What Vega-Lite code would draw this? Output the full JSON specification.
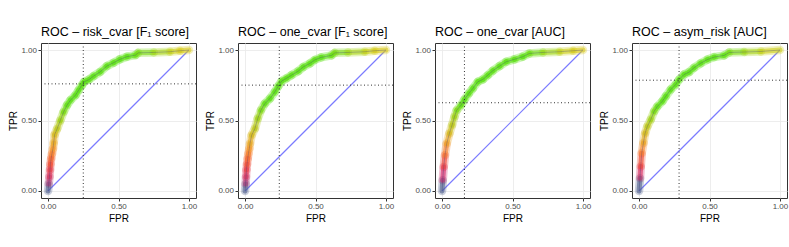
{
  "$schema": "https://vega.github.io/schema/vega-lite/v6.json",
  "padding": {"left": 7, "top": 25, "right": 0, "bottom": 0},
  "background": "white",
  "datasets": {
    "p1": [
      {"idx": 0, "FPR": 0, "TPR": 0, "cut": 1.0},
      {"idx": 1, "FPR": 0.005, "TPR": 0.05, "cut": 0.96},
      {"idx": 2, "FPR": 0.01, "TPR": 0.10, "cut": 0.93},
      {"idx": 3, "FPR": 0.014, "TPR": 0.15, "cut": 0.90},
      {"idx": 4, "FPR": 0.017, "TPR": 0.19, "cut": 0.87},
      {"idx": 5, "FPR": 0.022, "TPR": 0.23, "cut": 0.84},
      {"idx": 6, "FPR": 0.028, "TPR": 0.265, "cut": 0.81},
      {"idx": 7, "FPR": 0.035, "TPR": 0.30, "cut": 0.785},
      {"idx": 8, "FPR": 0.04, "TPR": 0.34, "cut": 0.76},
      {"idx": 9, "FPR": 0.047, "TPR": 0.40, "cut": 0.72},
      {"idx": 10, "FPR": 0.064, "TPR": 0.44, "cut": 0.68},
      {"idx": 11, "FPR": 0.087, "TPR": 0.50, "cut": 0.64},
      {"idx": 12, "FPR": 0.11, "TPR": 0.56, "cut": 0.60},
      {"idx": 13, "FPR": 0.135, "TPR": 0.61, "cut": 0.56},
      {"idx": 14, "FPR": 0.16, "TPR": 0.645, "cut": 0.53},
      {"idx": 15, "FPR": 0.195, "TPR": 0.68, "cut": 0.50},
      {"idx": 16, "FPR": 0.217, "TPR": 0.715, "cut": 0.47},
      {"idx": 17, "FPR": 0.24, "TPR": 0.75, "cut": 0.45},
      {"idx": 18, "FPR": 0.257, "TPR": 0.775, "cut": 0.43},
      {"idx": 19, "FPR": 0.29, "TPR": 0.79, "cut": 0.41},
      {"idx": 20, "FPR": 0.323, "TPR": 0.815, "cut": 0.38},
      {"idx": 21, "FPR": 0.37, "TPR": 0.845, "cut": 0.35},
      {"idx": 22, "FPR": 0.417, "TPR": 0.886, "cut": 0.32},
      {"idx": 23, "FPR": 0.465, "TPR": 0.91, "cut": 0.29},
      {"idx": 24, "FPR": 0.51, "TPR": 0.934, "cut": 0.26},
      {"idx": 25, "FPR": 0.56, "TPR": 0.953, "cut": 0.22},
      {"idx": 26, "FPR": 0.62, "TPR": 0.964, "cut": 0.18},
      {"idx": 27, "FPR": 0.64, "TPR": 0.98, "cut": 0.16},
      {"idx": 28, "FPR": 0.75, "TPR": 0.983, "cut": 0.11},
      {"idx": 29, "FPR": 0.865, "TPR": 0.988, "cut": 0.06},
      {"idx": 30, "FPR": 0.936, "TPR": 0.995, "cut": 0.03},
      {"idx": 31, "FPR": 1, "TPR": 1, "cut": 0.0}
    ],
    "p2": [
      {"idx": 0, "FPR": 0, "TPR": 0, "cut": 1.0},
      {"idx": 1, "FPR": 0.004, "TPR": 0.05, "cut": 0.96},
      {"idx": 2, "FPR": 0.007, "TPR": 0.10, "cut": 0.93},
      {"idx": 3, "FPR": 0.01, "TPR": 0.15, "cut": 0.90},
      {"idx": 4, "FPR": 0.014, "TPR": 0.19, "cut": 0.87},
      {"idx": 5, "FPR": 0.019, "TPR": 0.23, "cut": 0.84},
      {"idx": 6, "FPR": 0.024, "TPR": 0.265, "cut": 0.81},
      {"idx": 7, "FPR": 0.03, "TPR": 0.30, "cut": 0.785},
      {"idx": 8, "FPR": 0.035, "TPR": 0.336, "cut": 0.76},
      {"idx": 9, "FPR": 0.047, "TPR": 0.396, "cut": 0.72},
      {"idx": 10, "FPR": 0.07, "TPR": 0.443, "cut": 0.68},
      {"idx": 11, "FPR": 0.09, "TPR": 0.514, "cut": 0.64},
      {"idx": 12, "FPR": 0.113, "TPR": 0.573, "cut": 0.60},
      {"idx": 13, "FPR": 0.14, "TPR": 0.62, "cut": 0.56},
      {"idx": 14, "FPR": 0.177, "TPR": 0.656, "cut": 0.52},
      {"idx": 15, "FPR": 0.212, "TPR": 0.704, "cut": 0.48},
      {"idx": 16, "FPR": 0.236, "TPR": 0.744, "cut": 0.45},
      {"idx": 17, "FPR": 0.26, "TPR": 0.78, "cut": 0.42},
      {"idx": 18, "FPR": 0.295, "TPR": 0.80, "cut": 0.40},
      {"idx": 19, "FPR": 0.33, "TPR": 0.822, "cut": 0.37},
      {"idx": 20, "FPR": 0.377, "TPR": 0.85, "cut": 0.34},
      {"idx": 21, "FPR": 0.413, "TPR": 0.88, "cut": 0.31},
      {"idx": 22, "FPR": 0.46, "TPR": 0.905, "cut": 0.28},
      {"idx": 23, "FPR": 0.495, "TPR": 0.93, "cut": 0.25},
      {"idx": 24, "FPR": 0.54, "TPR": 0.948, "cut": 0.22},
      {"idx": 25, "FPR": 0.613, "TPR": 0.962, "cut": 0.18},
      {"idx": 26, "FPR": 0.637, "TPR": 0.98, "cut": 0.16},
      {"idx": 27, "FPR": 0.73, "TPR": 0.983, "cut": 0.11},
      {"idx": 28, "FPR": 0.85, "TPR": 0.988, "cut": 0.06},
      {"idx": 29, "FPR": 0.92, "TPR": 0.995, "cut": 0.03},
      {"idx": 30, "FPR": 1, "TPR": 1, "cut": 0.0}
    ],
    "p3": [
      {"idx": 0, "FPR": 0, "TPR": 0, "cut": 1.0},
      {"idx": 1, "FPR": 0.005, "TPR": 0.076, "cut": 0.95},
      {"idx": 2, "FPR": 0.012, "TPR": 0.17, "cut": 0.89},
      {"idx": 3, "FPR": 0.021, "TPR": 0.254, "cut": 0.82},
      {"idx": 4, "FPR": 0.033, "TPR": 0.336, "cut": 0.77},
      {"idx": 5, "FPR": 0.052, "TPR": 0.408, "cut": 0.72},
      {"idx": 6, "FPR": 0.071, "TPR": 0.467, "cut": 0.68},
      {"idx": 7, "FPR": 0.088, "TPR": 0.526, "cut": 0.64},
      {"idx": 8, "FPR": 0.104, "TPR": 0.573, "cut": 0.60},
      {"idx": 9, "FPR": 0.135, "TPR": 0.609, "cut": 0.56},
      {"idx": 10, "FPR": 0.159, "TPR": 0.649, "cut": 0.52},
      {"idx": 11, "FPR": 0.19, "TPR": 0.692, "cut": 0.49},
      {"idx": 12, "FPR": 0.218, "TPR": 0.727, "cut": 0.46},
      {"idx": 13, "FPR": 0.254, "TPR": 0.775, "cut": 0.43},
      {"idx": 14, "FPR": 0.289, "TPR": 0.791, "cut": 0.40},
      {"idx": 15, "FPR": 0.325, "TPR": 0.822, "cut": 0.37},
      {"idx": 16, "FPR": 0.36, "TPR": 0.853, "cut": 0.34},
      {"idx": 17, "FPR": 0.408, "TPR": 0.886, "cut": 0.31},
      {"idx": 18, "FPR": 0.455, "TPR": 0.917, "cut": 0.28},
      {"idx": 19, "FPR": 0.514, "TPR": 0.934, "cut": 0.25},
      {"idx": 20, "FPR": 0.573, "TPR": 0.953, "cut": 0.21},
      {"idx": 21, "FPR": 0.62, "TPR": 0.976, "cut": 0.17},
      {"idx": 22, "FPR": 0.716, "TPR": 0.983, "cut": 0.12},
      {"idx": 23, "FPR": 0.834, "TPR": 0.988, "cut": 0.06},
      {"idx": 24, "FPR": 0.93, "TPR": 0.995, "cut": 0.03},
      {"idx": 25, "FPR": 1, "TPR": 1, "cut": 0.0}
    ],
    "p4": [
      {"idx": 0, "FPR": 0, "TPR": 0, "cut": 1.0},
      {"idx": 1, "FPR": 0.007, "TPR": 0.09, "cut": 0.94},
      {"idx": 2, "FPR": 0.012, "TPR": 0.173, "cut": 0.88},
      {"idx": 3, "FPR": 0.019, "TPR": 0.268, "cut": 0.81},
      {"idx": 4, "FPR": 0.031, "TPR": 0.34, "cut": 0.76},
      {"idx": 5, "FPR": 0.043, "TPR": 0.41, "cut": 0.72},
      {"idx": 6, "FPR": 0.059, "TPR": 0.458, "cut": 0.68},
      {"idx": 7, "FPR": 0.083, "TPR": 0.506, "cut": 0.64},
      {"idx": 8, "FPR": 0.107, "TPR": 0.565, "cut": 0.60},
      {"idx": 9, "FPR": 0.13, "TPR": 0.60, "cut": 0.56},
      {"idx": 10, "FPR": 0.166, "TPR": 0.637, "cut": 0.53},
      {"idx": 11, "FPR": 0.19, "TPR": 0.672, "cut": 0.50},
      {"idx": 12, "FPR": 0.225, "TPR": 0.72, "cut": 0.47},
      {"idx": 13, "FPR": 0.26, "TPR": 0.755, "cut": 0.44},
      {"idx": 14, "FPR": 0.284, "TPR": 0.79, "cut": 0.42},
      {"idx": 15, "FPR": 0.32, "TPR": 0.827, "cut": 0.39},
      {"idx": 16, "FPR": 0.355, "TPR": 0.843, "cut": 0.36},
      {"idx": 17, "FPR": 0.39, "TPR": 0.874, "cut": 0.33},
      {"idx": 18, "FPR": 0.438, "TPR": 0.907, "cut": 0.30},
      {"idx": 19, "FPR": 0.486, "TPR": 0.933, "cut": 0.27},
      {"idx": 20, "FPR": 0.533, "TPR": 0.95, "cut": 0.24},
      {"idx": 21, "FPR": 0.604, "TPR": 0.962, "cut": 0.19},
      {"idx": 22, "FPR": 0.64, "TPR": 0.983, "cut": 0.16},
      {"idx": 23, "FPR": 0.746, "TPR": 0.986, "cut": 0.11},
      {"idx": 24, "FPR": 0.865, "TPR": 0.99, "cut": 0.06},
      {"idx": 25, "FPR": 1, "TPR": 1, "cut": 0.0}
    ]
  },
  "hconcat": [
    {
      "title": "ROC – risk_cvar [F₁ score]",
      "width": 155, "height": 155,
      "layer": [
        {"data": {"values": [{"FPR": 0, "TPR": 0}, {"FPR": 1, "TPR": 1}]}, "mark": {"type": "line", "stroke": "#7b7bff", "strokeWidth": 1.2},
         "encoding": {
           "x": {"field": "FPR", "type": "quantitative", "scale": {"domain": [-0.05, 1.05], "nice": false, "zero": false},
                 "axis": {"title": "FPR", "values": [0, 0.125, 0.25, 0.375, 0.5, 0.625, 0.75, 0.875, 1], "labelExpr": "round(datum.value*8)%2==1 ? '' : format(datum.value, '.2f')", "gridWidth": {"condition": {"test": "round(datum.value*8)%2==1", "value": 0.4}, "value": 0.9}, "tickOpacity": {"condition": {"test": "round(datum.value*8)%2==1", "value": 0}, "value": 1}}},
           "y": {"field": "TPR", "type": "quantitative", "scale": {"domain": [-0.05, 1.05], "nice": false, "zero": false},
                 "axis": {"title": "TPR", "values": [0, 0.125, 0.25, 0.375, 0.5, 0.625, 0.75, 0.875, 1], "labelExpr": "round(datum.value*8)%2==1 ? '' : format(datum.value, '.2f')", "gridWidth": {"condition": {"test": "round(datum.value*8)%2==1", "value": 0.4}, "value": 0.9}, "tickOpacity": {"condition": {"test": "round(datum.value*8)%2==1", "value": 0}, "value": 1}}}
         }},
        {"data": {"name": "p1"},
         "transform": [{"window": [{"op": "lead", "field": "FPR", "as": "FPR2"}, {"op": "lead", "field": "TPR", "as": "TPR2"}], "sort": [{"field": "idx"}]}, {"filter": "datum.FPR2 != null"}],
         "layer": [
           {"mark": {"type": "rule", "strokeWidth": 8.5, "strokeCap": "round", "opacity": 0.3}},
           {"mark": {"type": "rule", "strokeWidth": 5, "strokeCap": "round", "opacity": 0.6}}
         ],
         "encoding": {
           "x": {"field": "FPR", "type": "quantitative", "title": "FPR"},
           "y": {"field": "TPR", "type": "quantitative", "title": "TPR"},
           "x2": {"field": "FPR2"}, "y2": {"field": "TPR2"},
           "color": {"field": "cut", "type": "quantitative", "legend": null,
                     "scale": {"domain": [0, 0.08, 0.2, 0.58, 0.66, 0.74, 0.8, 0.88, 0.95, 1], "range": ["#e6c41c", "#c4d21a", "#5ae010", "#5ae010", "#a8d014", "#d8b81a", "#f8922a", "#f24a30", "#d42c6a", "#4f5f8e"], "interpolate": "rgb"}}
         }},
        {"data": {"name": "p1"}, "mark": {"type": "line", "color": "#303070", "strokeWidth": 0.8, "opacity": 0.35},
         "encoding": {"x": {"field": "FPR", "type": "quantitative"}, "y": {"field": "TPR", "type": "quantitative"}, "order": {"field": "idx", "type": "quantitative"}}},
        {"data": {"values": [{"FPR": 0.25}]}, "mark": {"type": "rule", "color": "#333333", "strokeDash": [1, 2.5], "strokeWidth": 1},
         "encoding": {"x": {"field": "FPR", "type": "quantitative"}}},
        {"data": {"values": [{"TPR": 0.76}]}, "mark": {"type": "rule", "color": "#333333", "strokeDash": [1, 2.5], "strokeWidth": 1},
         "encoding": {"y": {"field": "TPR", "type": "quantitative"}}}
      ]
    },
    {
      "title": "ROC – one_cvar [F₁ score]",
      "width": 155, "height": 155,
      "layer": [
        {"data": {"values": [{"FPR": 0, "TPR": 0}, {"FPR": 1, "TPR": 1}]}, "mark": {"type": "line", "stroke": "#7b7bff", "strokeWidth": 1.2},
         "encoding": {
           "x": {"field": "FPR", "type": "quantitative", "scale": {"domain": [-0.05, 1.05], "nice": false, "zero": false},
                 "axis": {"title": "FPR", "values": [0, 0.125, 0.25, 0.375, 0.5, 0.625, 0.75, 0.875, 1], "labelExpr": "round(datum.value*8)%2==1 ? '' : format(datum.value, '.2f')", "gridWidth": {"condition": {"test": "round(datum.value*8)%2==1", "value": 0.4}, "value": 0.9}, "tickOpacity": {"condition": {"test": "round(datum.value*8)%2==1", "value": 0}, "value": 1}}},
           "y": {"field": "TPR", "type": "quantitative", "scale": {"domain": [-0.05, 1.05], "nice": false, "zero": false},
                 "axis": {"title": "TPR", "values": [0, 0.125, 0.25, 0.375, 0.5, 0.625, 0.75, 0.875, 1], "labelExpr": "round(datum.value*8)%2==1 ? '' : format(datum.value, '.2f')", "gridWidth": {"condition": {"test": "round(datum.value*8)%2==1", "value": 0.4}, "value": 0.9}, "tickOpacity": {"condition": {"test": "round(datum.value*8)%2==1", "value": 0}, "value": 1}}}
         }},
        {"data": {"name": "p2"},
         "transform": [{"window": [{"op": "lead", "field": "FPR", "as": "FPR2"}, {"op": "lead", "field": "TPR", "as": "TPR2"}], "sort": [{"field": "idx"}]}, {"filter": "datum.FPR2 != null"}],
         "layer": [
           {"mark": {"type": "rule", "strokeWidth": 8.5, "strokeCap": "round", "opacity": 0.3}},
           {"mark": {"type": "rule", "strokeWidth": 5, "strokeCap": "round", "opacity": 0.6}}
         ],
         "encoding": {
           "x": {"field": "FPR", "type": "quantitative", "title": "FPR"},
           "y": {"field": "TPR", "type": "quantitative", "title": "TPR"},
           "x2": {"field": "FPR2"}, "y2": {"field": "TPR2"},
           "color": {"field": "cut", "type": "quantitative", "legend": null,
                     "scale": {"domain": [0, 0.08, 0.2, 0.58, 0.66, 0.74, 0.8, 0.88, 0.95, 1], "range": ["#e6c41c", "#c4d21a", "#5ae010", "#5ae010", "#a8d014", "#d8b81a", "#f8922a", "#f24a30", "#d42c6a", "#4f5f8e"], "interpolate": "rgb"}}
         }},
        {"data": {"name": "p2"}, "mark": {"type": "line", "color": "#303070", "strokeWidth": 0.8, "opacity": 0.35},
         "encoding": {"x": {"field": "FPR", "type": "quantitative"}, "y": {"field": "TPR", "type": "quantitative"}, "order": {"field": "idx", "type": "quantitative"}}},
        {"data": {"values": [{"FPR": 0.243}]}, "mark": {"type": "rule", "color": "#333333", "strokeDash": [1, 2.5], "strokeWidth": 1},
         "encoding": {"x": {"field": "FPR", "type": "quantitative"}}},
        {"data": {"values": [{"TPR": 0.751}]}, "mark": {"type": "rule", "color": "#333333", "strokeDash": [1, 2.5], "strokeWidth": 1},
         "encoding": {"y": {"field": "TPR", "type": "quantitative"}}}
      ]
    },
    {
      "title": "ROC – one_cvar [AUC]",
      "width": 155, "height": 155,
      "layer": [
        {"data": {"values": [{"FPR": 0, "TPR": 0}, {"FPR": 1, "TPR": 1}]}, "mark": {"type": "line", "stroke": "#7b7bff", "strokeWidth": 1.2},
         "encoding": {
           "x": {"field": "FPR", "type": "quantitative", "scale": {"domain": [-0.05, 1.05], "nice": false, "zero": false},
                 "axis": {"title": "FPR", "values": [0, 0.125, 0.25, 0.375, 0.5, 0.625, 0.75, 0.875, 1], "labelExpr": "round(datum.value*8)%2==1 ? '' : format(datum.value, '.2f')", "gridWidth": {"condition": {"test": "round(datum.value*8)%2==1", "value": 0.4}, "value": 0.9}, "tickOpacity": {"condition": {"test": "round(datum.value*8)%2==1", "value": 0}, "value": 1}}},
           "y": {"field": "TPR", "type": "quantitative", "scale": {"domain": [-0.05, 1.05], "nice": false, "zero": false},
                 "axis": {"title": "TPR", "values": [0, 0.125, 0.25, 0.375, 0.5, 0.625, 0.75, 0.875, 1], "labelExpr": "round(datum.value*8)%2==1 ? '' : format(datum.value, '.2f')", "gridWidth": {"condition": {"test": "round(datum.value*8)%2==1", "value": 0.4}, "value": 0.9}, "tickOpacity": {"condition": {"test": "round(datum.value*8)%2==1", "value": 0}, "value": 1}}}
         }},
        {"data": {"name": "p3"},
         "transform": [{"window": [{"op": "lead", "field": "FPR", "as": "FPR2"}, {"op": "lead", "field": "TPR", "as": "TPR2"}], "sort": [{"field": "idx"}]}, {"filter": "datum.FPR2 != null"}],
         "layer": [
           {"mark": {"type": "rule", "strokeWidth": 8.5, "strokeCap": "round", "opacity": 0.3}},
           {"mark": {"type": "rule", "strokeWidth": 5, "strokeCap": "round", "opacity": 0.6}}
         ],
         "encoding": {
           "x": {"field": "FPR", "type": "quantitative", "title": "FPR"},
           "y": {"field": "TPR", "type": "quantitative", "title": "TPR"},
           "x2": {"field": "FPR2"}, "y2": {"field": "TPR2"},
           "color": {"field": "cut", "type": "quantitative", "legend": null,
                     "scale": {"domain": [0, 0.08, 0.2, 0.58, 0.66, 0.74, 0.8, 0.88, 0.95, 1], "range": ["#e6c41c", "#c4d21a", "#5ae010", "#5ae010", "#a8d014", "#d8b81a", "#f8922a", "#f24a30", "#d42c6a", "#4f5f8e"], "interpolate": "rgb"}}
         }},
        {"data": {"name": "p3"}, "mark": {"type": "line", "color": "#303070", "strokeWidth": 0.8, "opacity": 0.35},
         "encoding": {"x": {"field": "FPR", "type": "quantitative"}, "y": {"field": "TPR", "type": "quantitative"}, "order": {"field": "idx", "type": "quantitative"}}},
        {"data": {"values": [{"FPR": 0.159}]}, "mark": {"type": "rule", "color": "#333333", "strokeDash": [1, 2.5], "strokeWidth": 1},
         "encoding": {"x": {"field": "FPR", "type": "quantitative"}}},
        {"data": {"values": [{"TPR": 0.626}]}, "mark": {"type": "rule", "color": "#333333", "strokeDash": [1, 2.5], "strokeWidth": 1},
         "encoding": {"y": {"field": "TPR", "type": "quantitative"}}}
      ]
    },
    {
      "title": "ROC – asym_risk [AUC]",
      "width": 155, "height": 155,
      "layer": [
        {"data": {"values": [{"FPR": 0, "TPR": 0}, {"FPR": 1, "TPR": 1}]}, "mark": {"type": "line", "stroke": "#7b7bff", "strokeWidth": 1.2},
         "encoding": {
           "x": {"field": "FPR", "type": "quantitative", "scale": {"domain": [-0.05, 1.05], "nice": false, "zero": false},
                 "axis": {"title": "FPR", "values": [0, 0.125, 0.25, 0.375, 0.5, 0.625, 0.75, 0.875, 1], "labelExpr": "round(datum.value*8)%2==1 ? '' : format(datum.value, '.2f')", "gridWidth": {"condition": {"test": "round(datum.value*8)%2==1", "value": 0.4}, "value": 0.9}, "tickOpacity": {"condition": {"test": "round(datum.value*8)%2==1", "value": 0}, "value": 1}}},
           "y": {"field": "TPR", "type": "quantitative", "scale": {"domain": [-0.05, 1.05], "nice": false, "zero": false},
                 "axis": {"title": "TPR", "values": [0, 0.125, 0.25, 0.375, 0.5, 0.625, 0.75, 0.875, 1], "labelExpr": "round(datum.value*8)%2==1 ? '' : format(datum.value, '.2f')", "gridWidth": {"condition": {"test": "round(datum.value*8)%2==1", "value": 0.4}, "value": 0.9}, "tickOpacity": {"condition": {"test": "round(datum.value*8)%2==1", "value": 0}, "value": 1}}}
         }},
        {"data": {"name": "p4"},
         "transform": [{"window": [{"op": "lead", "field": "FPR", "as": "FPR2"}, {"op": "lead", "field": "TPR", "as": "TPR2"}], "sort": [{"field": "idx"}]}, {"filter": "datum.FPR2 != null"}],
         "layer": [
           {"mark": {"type": "rule", "strokeWidth": 8.5, "strokeCap": "round", "opacity": 0.3}},
           {"mark": {"type": "rule", "strokeWidth": 5, "strokeCap": "round", "opacity": 0.6}}
         ],
         "encoding": {
           "x": {"field": "FPR", "type": "quantitative", "title": "FPR"},
           "y": {"field": "TPR", "type": "quantitative", "title": "TPR"},
           "x2": {"field": "FPR2"}, "y2": {"field": "TPR2"},
           "color": {"field": "cut", "type": "quantitative", "legend": null,
                     "scale": {"domain": [0, 0.08, 0.2, 0.58, 0.66, 0.74, 0.8, 0.88, 0.95, 1], "range": ["#e6c41c", "#c4d21a", "#5ae010", "#5ae010", "#a8d014", "#d8b81a", "#f8922a", "#f24a30", "#d42c6a", "#4f5f8e"], "interpolate": "rgb"}}
         }},
        {"data": {"name": "p4"}, "mark": {"type": "line", "color": "#303070", "strokeWidth": 0.8, "opacity": 0.35},
         "encoding": {"x": {"field": "FPR", "type": "quantitative"}, "y": {"field": "TPR", "type": "quantitative"}, "order": {"field": "idx", "type": "quantitative"}}},
        {"data": {"values": [{"FPR": 0.284}]}, "mark": {"type": "rule", "color": "#333333", "strokeDash": [1, 2.5], "strokeWidth": 1},
         "encoding": {"x": {"field": "FPR", "type": "quantitative"}}},
        {"data": {"values": [{"TPR": 0.786}]}, "mark": {"type": "rule", "color": "#333333", "strokeDash": [1, 2.5], "strokeWidth": 1},
         "encoding": {"y": {"field": "TPR", "type": "quantitative"}}}
      ]
    }
  ],
  "bounds": "flush",
  "spacing": 42,
  "config": {
    "font": "Liberation Sans",
    "view": {"stroke": "#333333", "strokeWidth": 1},
    "title": {"fontSize": 12.5, "fontWeight": "normal", "anchor": "start", "frame": "group", "color": "#000000", "offset": 4},
    "axis": {"domain": false, "gridColor": "#ebebeb", "tickColor": "#333333", "tickSize": 3, "tickWidth": 1,
             "labelFontSize": 8, "labelColor": "#4d4d4d", "labelPadding": 1.5, "labelFlush": false, "labelOverlap": false,
             "titleFontSize": 10, "titleFontWeight": "normal", "titleColor": "#000000", "titlePadding": 2.5}
  }
}
